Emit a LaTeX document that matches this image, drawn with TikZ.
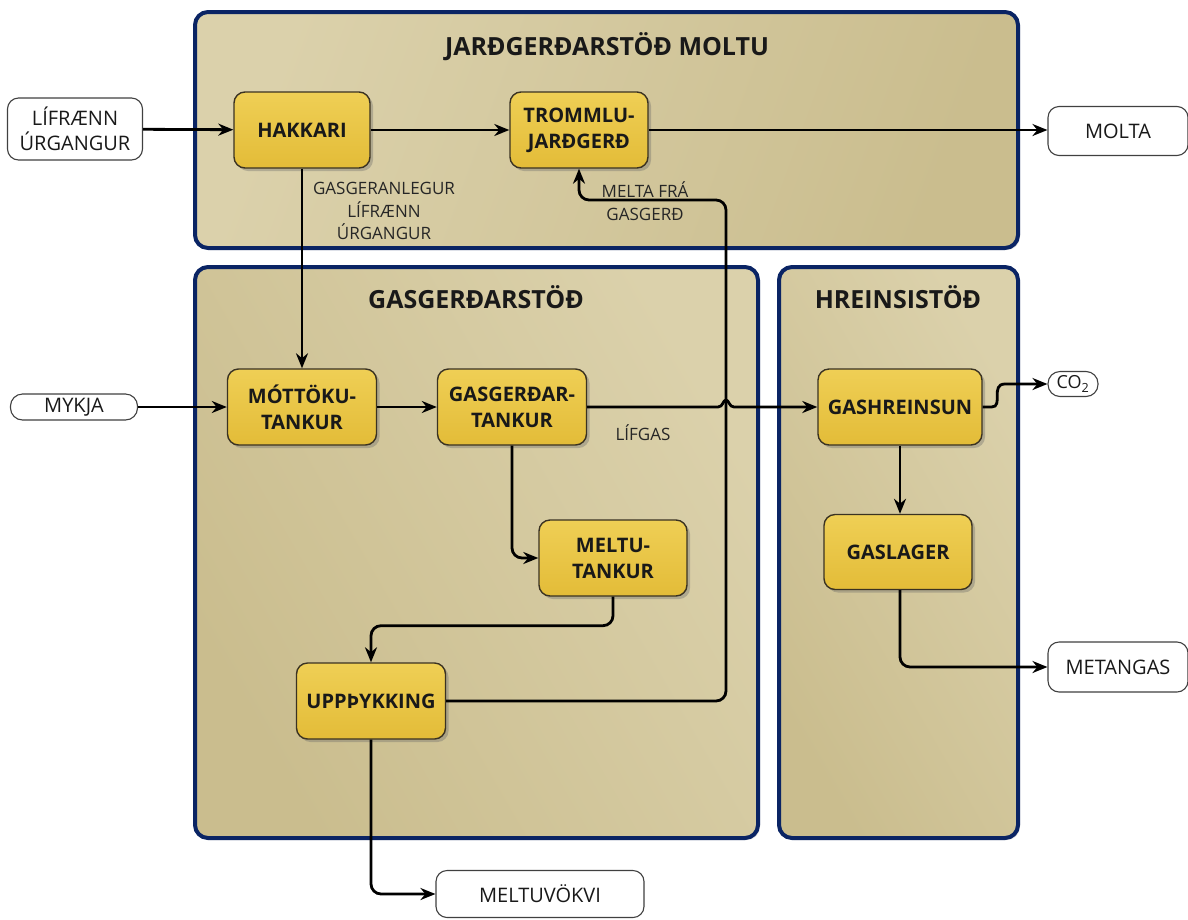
\documentclass[tikz,border=0pt]{standalone}
\usepackage{fontspec}
\setmainfont{Open Sans}
\usetikzlibrary{arrows.meta,shadows,calc}
\definecolor{navy}{HTML}{0A2464}
\definecolor{panlight}{HTML}{DBD1AB}
\definecolor{pandark}{HTML}{CABD8E}
\definecolor{ylight}{HTML}{EFCF55}
\definecolor{ydark}{HTML}{E3BC38}
\definecolor{yborder}{HTML}{3A3222}
\tikzset{
  panel/.style={draw=navy, line width=4pt, rounded corners=13pt,
     drop shadow={shadow xshift=2pt, shadow yshift=-2pt, opacity=0.25, fill=black!50}},
  paneltop/.style={panel, left color=panlight, right color=pandark, shading angle=70},
  panelbot/.style={panel, left color=pandark, right color=panlight, shading angle=120},
  ptitle/.style={font=\bfseries\fontsize{25}{28}\selectfont, text=black!90},
  proc/.style={draw=yborder, line width=1.4pt, rounded corners=11pt, top color=ylight, bottom color=ydark,
     drop shadow={shadow xshift=3pt, shadow yshift=-3pt, opacity=0.35, fill=black!60},
     align=center, font=\bfseries\fontsize{20}{26}\selectfont, text=black!90, inner sep=0pt},
  ext/.style={draw=black!75, line width=1.1pt, rounded corners=11pt, fill=white, align=center,
     font=\fontsize{20}{25}\selectfont, text=black!90, inner sep=0pt},
  lbl/.style={align=center, font=\fontsize{17}{22.5}\selectfont, text=black!85},
  flow/.style={line width=2.8pt, rounded corners=10pt, -{Stealth[length=15pt,width=12pt]}},
}
\begin{document}
\begin{tikzpicture}[x=1pt,y=-1pt]
\useasboundingbox (0,0) rectangle (1188,919);
% panels
\path[paneltop] (195,12) rectangle (1018,248);
\path[panelbot] (195,267) rectangle (758,838);
\path[panelbot] (779,267) rectangle (1018,838);
\node[ptitle] (t1) at (607,47) {JARÐGERÐARSTÖÐ MOLTU};
\node[ptitle] (t2) at (476,297) {GASGERÐARSTÖÐ};
\node[ptitle] (t3) at (898,297) {HREINSISTÖÐ};
% process nodes
\node[proc, minimum width=136pt, minimum height=76pt] (hak) at (302,130) {HAKKARI};
\node[proc, minimum width=138pt, minimum height=76pt] (trom) at (579,130) {TROMMLU-\\JARÐGERÐ};
\node[proc, minimum width=149pt, minimum height=76pt] (mott) at (302,407) {MÓTTÖKU-\\TANKUR};
\node[proc, minimum width=149pt, minimum height=76pt] (gast) at (512,407) {GASGERÐAR-\\TANKUR};
\node[proc, minimum width=148pt, minimum height=76pt] (melt) at (613,558) {MELTU-\\TANKUR};
\node[proc, minimum width=149pt, minimum height=76pt] (upp) at (371,701) {UPPÞYKKING};
\node[proc, minimum width=164pt, minimum height=76pt] (gash) at (900,407) {GASHREINSUN};
\node[proc, minimum width=148pt, minimum height=75pt] (gasl) at (898,552) {GASLAGER};
% external nodes
\node[ext, minimum width=135pt, minimum height=62pt] (lif) at (75,129) {LÍFRÆNN\\ÚRGANGUR};
\node[ext, minimum width=140pt, minimum height=49pt] (molta) at (1118,131) {MOLTA};
\node[ext, minimum width=127pt, minimum height=26pt, rounded corners=12pt] (myk) at (74,407) {MYKJA};
\node[ext, minimum width=50pt, minimum height=25pt, rounded corners=12pt, font=\fontsize{18}{20}\selectfont] (co2) at (1073,384) {CO\textsubscript{2}};
\node[ext, minimum width=140pt, minimum height=50pt] (met) at (1118,667) {METANGAS};
\node[ext, minimum width=208pt, minimum height=47pt] (mv) at (540,894) {MELTUVÖKVI};
% labels
\node[lbl] (l1) at (384,211) {GASGERANLEGUR\\LÍFRÆNN\\ÚRGANGUR};
\node[lbl] (l2) at (645,201) {MELTA FRÁ\\GASGERÐ};
\node[lbl] (l3) at (643,433) {LÍFGAS};
% connectors
\draw[flow] (lif) -- (hak);
\draw[flow] (hak) -- (trom);
\draw[flow] (trom.east) -- (trom.east -| molta.west);
\draw[flow] (hak.south) -- (mott.north);
\draw[flow] (myk) -- (mott);
\draw[flow] (mott) -- (gast);
\coordinate (hop) at (726,407);
\draw[flow, rounded corners=0pt] (gast.east) -- ($(hop)+(-8,0)$) .. controls ($(hop)+(-3,0)$) and ($(hop)+(-3,-7)$) .. ($(hop)+(0,-7)$) .. controls ($(hop)+(3,-7)$) and ($(hop)+(3,0)$) .. ($(hop)+(8,0)$) -- (gash.west);
\draw[flow] (gast.south) |- (melt.west);
\draw[flow] (melt.south) -- ++(0,29) -| (upp.north);
\draw[flow] (upp.east) -- (726,701) -- (726,200) -| (trom.south);
\draw[flow] (upp.south) |- (mv.west);
\draw[flow, rounded corners=0pt] (gash.east) -- ++(9,0) .. controls ++(12,0) and (990,384) .. (1005,384) -- (co2.west);
\draw[flow] (gash.south) -- (gash.south |- gasl.north);
\draw[flow] (gash.south |- gasl.south) |- (met.west);
\end{tikzpicture}
\end{document}
